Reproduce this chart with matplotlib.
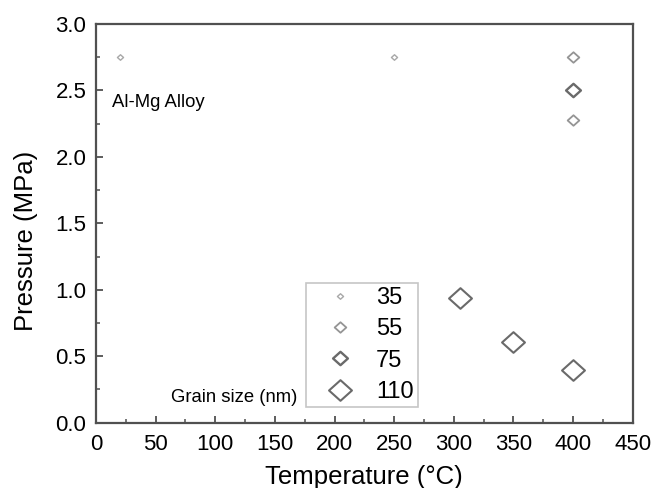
import matplotlib
matplotlib.use("Agg")
import matplotlib.pyplot as plt
from matplotlib.path import Path
from matplotlib.ticker import MultipleLocator, FormatStrFormatter

plt.rcParams['font.family'] = ['Liberation Sans', 'DejaVu Sans']

# Grain size series (nm) and their measured points
grain_labels = ["35", "55", "75", "110"]
temp_35 = [20, 250]
pres_35 = [2.75, 2.75]
temp_55 = [400, 400]
pres_55 = [2.75, 2.28]
temp_75 = [400]
pres_75 = [2.5]
temp_110 = [305, 350, 400]
pres_110 = [0.94, 0.61, 0.40]

# slightly wide open diamond
diamond = Path([(-1.0, 0.0), (0.0, 0.9), (1.0, 0.0), (0.0, -0.9), (-1.0, 0.0)],
               [Path.MOVETO, Path.LINETO, Path.LINETO, Path.LINETO, Path.CLOSEPOLY])

fig = plt.figure(figsize=(6.64, 4.88), dpi=100)
ax = fig.add_axes([0.1446, 0.1338, 0.8083, 0.8170])

styles = [
    (temp_35, pres_35, 4.4, "#a8a8a8", 1.0),
    (temp_55, pres_55, 8.4, "#959595", 1.3),
    (temp_75, pres_75, 10.7, "#6a6a6a", 1.7),
    (temp_110, pres_110, 16.5, "#6a6a6a", 1.5),
]
for (xs, ys, ms, col, lw), lab in zip(styles, grain_labels):
    ax.plot(xs, ys, linestyle="none", marker=diamond, markersize=ms,
            markerfacecolor="none", markeredgecolor=col,
            markeredgewidth=lw, label=lab)

ax.set_xlim(0, 450)
ax.set_ylim(0, 3.0)
ax.xaxis.set_major_locator(MultipleLocator(50))
ax.xaxis.set_minor_locator(MultipleLocator(25))
ax.yaxis.set_major_locator(MultipleLocator(0.5))
ax.yaxis.set_minor_locator(MultipleLocator(0.25))
ax.yaxis.set_major_formatter(FormatStrFormatter("%.1f"))

for sp in ax.spines.values():
    sp.set_color("#505050")
    sp.set_linewidth(1.6)

ax.tick_params(which="major", direction="in", length=5, width=1.3,
               color="#505050", labelsize=16)
ax.tick_params(axis="x", which="major", pad=8)
ax.tick_params(axis="y", which="major", pad=7)
ax.tick_params(which="minor", direction="in", length=3, width=1.1,
               color="#505050")

ax.set_xlabel("Temperature (°C)", fontsize=18.5)
ax.set_ylabel("Pressure (MPa)", fontsize=18.5)
ax.xaxis.label.set_va("center")
ax.yaxis.label.set_va("center")
ax.xaxis.set_label_coords(0.5, -0.135)
ax.yaxis.set_label_coords(-0.130, 0.456)

ax.text(13.4, 2.413, "Al-Mg Alloy", fontsize=13.3, va="center", ha="left")
ax.text(63, 0.193, "Grain size (nm)", fontsize=13.3, va="center", ha="left")

leg = ax.legend(loc="lower left", bbox_to_anchor=(0.391, 0.039),
                borderaxespad=0, fancybox=False, fontsize=17,
                handlelength=2.54, handletextpad=0.25, labelspacing=0.39,
                borderpad=0.18, numpoints=1)
leg.get_frame().set_edgecolor("#b8b8b8")
leg.get_frame().set_linewidth(1.2)

fig.savefig("out.png", dpi=100)
